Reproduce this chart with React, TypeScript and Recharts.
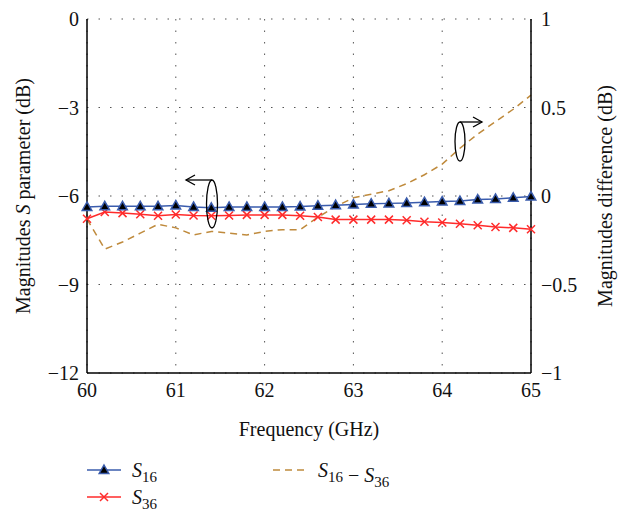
import { CartesianGrid, ComposedChart, Line, XAxis, YAxis } from "recharts";

const frequency = [
  60, 60.2, 60.4, 60.6, 60.8, 61, 61.2, 61.4, 61.6, 61.8, 62, 62.2, 62.4,
  62.6, 62.8, 63, 63.2, 63.4, 63.6, 63.8, 64, 64.2, 64.4, 64.6, 64.8, 65,
];
const s16 = [
  -6.37, -6.35, -6.35, -6.35, -6.35, -6.32, -6.37, -6.4, -6.37, -6.37, -6.37,
  -6.37, -6.36, -6.33, -6.31, -6.29, -6.26, -6.25, -6.24, -6.21, -6.19,
  -6.17, -6.12, -6.1, -6.06, -6.02,
];
const s36 = [
  -6.77, -6.54, -6.58, -6.62, -6.67, -6.63, -6.66, -6.67, -6.66, -6.64,
  -6.64, -6.64, -6.67, -6.71, -6.8, -6.8, -6.8, -6.8, -6.82, -6.87, -6.9,
  -6.94, -6.99, -7.05, -7.08, -7.13,
];
const diff = [
  -0.13, -0.3, -0.26, -0.21, -0.16, -0.18, -0.22, -0.2, -0.21, -0.22, -0.2,
  -0.19, -0.19, -0.12, -0.06, -0.01, 0.01, 0.03, 0.07, 0.12, 0.18, 0.27,
  0.35, 0.42, 0.49, 0.57,
];
const freqTicks = [60, 61, 62, 63, 64, 65];
const leftTicks = [-12, -9, -6, -3, 0];
const rightTicks = [-1, -0.5, 0, 0.5, 1];

const data = frequency.map((f, i) => ({
  f,
  s16: s16[i],
  s36: s36[i],
  diff: diff[i],
}));

const FONT = "Liberation Serif, DejaVu Serif, Times New Roman, serif";
const BLUE = "#3a5cad";
const RED = "#ff2b2b";
const GOLD = "#bf8a3c";

const fmt = (v: number) => (v < 0 ? `\u2212${Math.abs(v)}` : `${v}`);

function Triangle({ cx, cy }: { cx?: number; cy?: number }) {
  if (cx == null || cy == null) return null;
  return (
    <path
      d={`M${cx},${cy - 5} L${cx + 4.8},${cy + 3.5} L${cx - 4.8},${cy + 3.5} Z`}
      fill="#000"
      stroke={BLUE}
      strokeWidth={1.5}
    />
  );
}

function Cross({ cx, cy }: { cx?: number; cy?: number }) {
  if (cx == null || cy == null) return null;
  const r = 4;
  return (
    <path
      d={`M${cx - r},${cy - r} L${cx + r},${cy + r} M${cx - r},${cy + r} L${cx + r},${cy - r}`}
      stroke={RED}
      strokeWidth={1.5}
      fill="none"
    />
  );
}

function Sub({ s }: { s: string }) {
  return (
    <>
      <tspan fontStyle="italic">S</tspan>
      <tspan fontSize={15} dy={5}>
        {s}
      </tspan>
      <tspan dy={-5}></tspan>
    </>
  );
}

export default function App() {
  const tickStyle = { fontSize: 20, fill: "#111", style: { fontFamily: FONT } };
  return (
    <div
      style={{
        position: "absolute",
        left: 0,
        top: 0,
        width: 629,
        height: 512,
        background: "#fff",
        fontFamily: FONT,
      }}
    >
      <ComposedChart
        width={629}
        height={512}
        data={data}
        margin={{ top: 19, right: 38, left: 37, bottom: 109 }}
        style={{ fontFamily: FONT }}
      >
        <CartesianGrid stroke="#555" strokeDasharray="1.5 10" yAxisId="left" />
        <XAxis
          dataKey="f"
          type="number"
          domain={[60, 65]}
          ticks={freqTicks}
          tickLine={false}
          axisLine={{ stroke: "#000", strokeWidth: 1.5 }}
          tick={tickStyle}
          tickMargin={4}
          height={30}
        />
        <XAxis
          xAxisId="top"
          orientation="top"
          dataKey="f"
          type="number"
          domain={[60, 65]}
          tick={false}
          tickLine={false}
          axisLine={{ stroke: "#000", strokeWidth: 1.5 }}
          height={0}
        />
        <YAxis
          yAxisId="left"
          domain={[-12, 0]}
          ticks={leftTicks}
          tickFormatter={fmt}
          tickLine={false}
          axisLine={{ stroke: "#000", strokeWidth: 1.5 }}
          tick={tickStyle}
          tickMargin={2}
          width={50}
        />
        <YAxis
          yAxisId="right"
          orientation="right"
          domain={[-1, 1]}
          ticks={rightTicks}
          tickFormatter={fmt}
          tickLine={false}
          axisLine={{ stroke: "#000", strokeWidth: 1.5 }}
          tick={tickStyle}
          tickMargin={4}
          width={60}
        />
        <Line
          yAxisId="right"
          dataKey="diff"
          stroke={GOLD}
          strokeWidth={1.5}
          strokeDasharray="7 5"
          dot={false}
          type="linear"
          isAnimationActive={false}
        />
        <Line
          yAxisId="left"
          dataKey="s36"
          stroke={RED}
          strokeWidth={1.5}
          dot={(p: any) => <Cross key={`c${p.index}`} cx={p.cx} cy={p.cy} />}
          type="linear"
          isAnimationActive={false}
        />
        <Line
          yAxisId="left"
          dataKey="s16"
          stroke={BLUE}
          strokeWidth={1.5}
          dot={(p: any) => <Triangle key={`t${p.index}`} cx={p.cx} cy={p.cy} />}
          type="linear"
          isAnimationActive={false}
        />
      </ComposedChart>
      <svg
        width={629}
        height={512}
        style={{ position: "absolute", left: 0, top: 0, pointerEvents: "none", fontFamily: FONT }}
      >
        <defs>
          <marker id="ah" markerWidth="12" markerHeight="12" refX="10" refY="6" orient="auto" markerUnits="userSpaceOnUse">
            <path d="M1,1 L10,6 L1,11" fill="none" stroke="#000" strokeWidth={1.3} />
          </marker>
        </defs>
        {/* annotations */}
        <ellipse cx={212} cy={204} rx={5.5} ry={24} fill="none" stroke="#000" strokeWidth={1.3} />
        <line x1={212} y1={180} x2={186} y2={180} stroke="#000" strokeWidth={1.3} markerEnd="url(#ah)" />
        <ellipse cx={460} cy={141.5} rx={5} ry={19.5} fill="none" stroke="#000" strokeWidth={1.3} />
        <line x1={460} y1={122} x2={482} y2={122} stroke="#000" strokeWidth={1.3} markerEnd="url(#ah)" />
        {/* axis titles */}
        <text x={309} y={436} textAnchor="middle" fontSize={20} fill="#111">
          Frequency (GHz)
        </text>
        <text transform="translate(30,196) rotate(-90)" textAnchor="middle" fontSize={20} fill="#111">
          Magnitudes <tspan fontStyle="italic">S</tspan> parameter (dB)
        </text>
        <text transform="translate(612,196) rotate(-90)" textAnchor="middle" fontSize={20} fill="#111">
          Magnitudes difference (dB)
        </text>
        {/* legend */}
        <line x1={87} y1={470} x2={121} y2={470} stroke={BLUE} strokeWidth={1.5} />
        <Triangle cx={104} cy={470} />
        <text x={132} y={477} fontSize={20} fill="#111">
          <Sub s="16" />
        </text>
        <line x1={87} y1={497} x2={121} y2={497} stroke={RED} strokeWidth={1.5} />
        <Cross cx={104} cy={497} />
        <text x={132} y={504} fontSize={20} fill="#111">
          <Sub s="36" />
        </text>
        <line x1={273} y1={470} x2={308} y2={470} stroke={GOLD} strokeWidth={1.5} strokeDasharray="7 5" />
        <text x={318} y={477} fontSize={20} fill="#111">
          <Sub s="16" />
          <tspan> {"\u2212"} </tspan>
          <Sub s="36" />
        </text>
      </svg>
    </div>
  );
}
